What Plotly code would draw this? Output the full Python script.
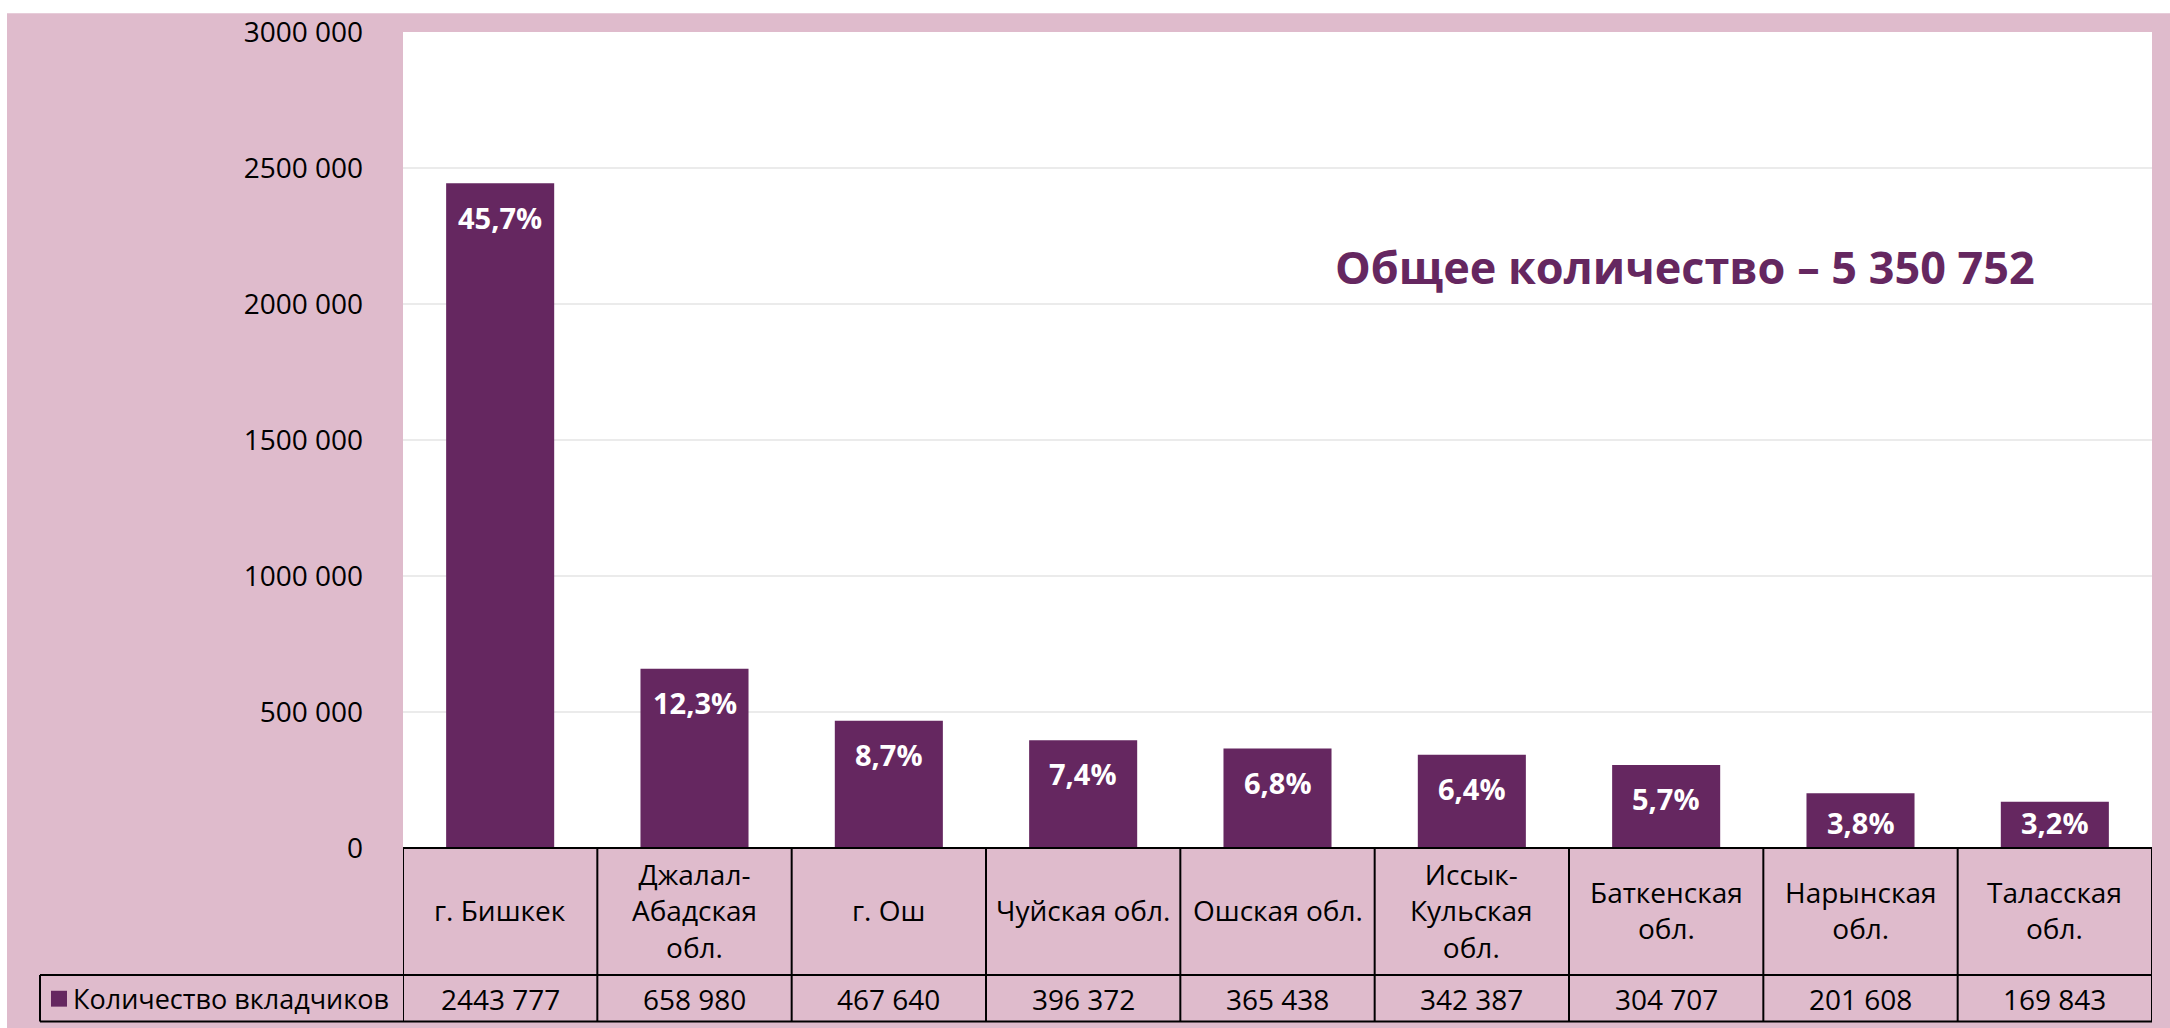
import plotly.graph_objects as go

# ---------------- data ----------------
categories = ["г. Бишкек", "Джалал-<br>Абадская<br>обл.", "г. Ош", "Чуйская обл.", "Ошская обл.",
              "Иссык-<br>Кульская<br>обл.", "Баткенская<br>обл.", "Нарынская<br>обл.", "Таласская<br>обл."]
depositors = [2443777, 658980, 467640, 396372, 365438, 342387, 304707, 201608, 169843]
value_labels = ["2443 777", "658 980", "467 640", "396 372", "365 438", "342 387", "304 707", "201 608", "169 843"]
pct_labels = ["45,7%", "12,3%", "8,7%", "7,4%", "6,8%", "6,4%", "5,7%", "3,8%", "3,2%"]
series_name = "Количество вкладчиков"
title_text = "Общее количество – 5 350 752"
y_tickvals = [0, 500000, 1000000, 1500000, 2000000, 2500000, 3000000]
y_ticktext = ["0", "500 000", "1000 000", "1500 000", "2000 000", "2500 000", "3000 000"]

# ---------------- layout constants (pixels) ----------------
FIG_W, FIG_H = 2170, 1028
L, R_PX, T, B_PX = 403, 2152, 25, 848
PW, PH = R_PX - L, B_PX - T
Y_MAX = 3000000
UPP = Y_MAX / PH  # data units per pixel

def fx(p):
    return (p - L) / PW

def fy(p):
    return (B_PX - p) / PH

PINK = "#DFBBCC"
PURPLE = "#652760"
FONT = "Open Sans"

fig = go.Figure()
fig.add_trace(go.Bar(
    x=categories, y=depositors, name=series_name,
    marker=dict(color=PURPLE, line=dict(width=0)),
    showlegend=False, hoverinfo="skip",
))

annotations = []
# percent labels inside top of bars (kept inside short bars)
for c, v, p in zip(categories, depositors, pct_labels):
    y_lab = max(v - 34 * UPP, 26 * UPP)
    annotations.append(dict(x=c, y=y_lab, xref="x", yref="y", text="<b>%s</b>" % p,
                            showarrow=False, yanchor="middle",
                            font=dict(family=FONT, size=29, color="white")))
# category labels row
for c in categories:
    annotations.append(dict(x=c, y=fy(911), xref="x", yref="paper", text=c,
                            showarrow=False, yanchor="middle", xanchor="center",
                            font=dict(family=FONT, size=28, color="black")))
# values row
for c, t in zip(categories, value_labels):
    annotations.append(dict(x=c, y=fy(1000), xref="x", yref="paper", text=t,
                            showarrow=False, yanchor="middle", xanchor="center",
                            font=dict(family=FONT, size=28, color="black")))
# legend cell text
annotations.append(dict(x=fx(71), y=fy(1000), xref="paper", yref="paper", text=series_name,
                        showarrow=False, xanchor="left", yanchor="middle",
                        font=dict(family=FONT, size=27, color="black")))
# title
annotations.append(dict(x=fx(1685), y=fy(262), xref="paper", yref="paper",
                        text="<b>%s</b>" % title_text, showarrow=False,
                        xanchor="center", yanchor="middle",
                        font=dict(family=FONT, size=45, color=PURPLE)))

shapes = []
# pink background (white border at top and left)
shapes.append(dict(type="rect", xref="paper", yref="paper", x0=fx(7), x1=fx(FIG_W + 5), y0=fy(6), y1=fy(FIG_H + 5),
                   fillcolor=PINK, line=dict(width=0), layer="below"))
# white plot area
shapes.append(dict(type="rect", xref="paper", yref="paper", x0=0, x1=1, y0=0, y1=1,
                   fillcolor="white", line=dict(width=0), layer="below"))
line_style = dict(color="black", width=2)
n = len(categories)
# horizontal table lines
shapes.append(dict(type="line", xref="paper", yref="paper", x0=0, x1=1, y0=fy(B_PX), y1=fy(B_PX), line=line_style))
shapes.append(dict(type="line", xref="paper", yref="paper", x0=fx(40), x1=1, y0=fy(976), y1=fy(976), line=line_style))
shapes.append(dict(type="line", xref="paper", yref="paper", x0=fx(40), x1=1, y0=fy(1023), y1=fy(1023), line=line_style))
# vertical table lines
for i in range(n + 1):
    shapes.append(dict(type="line", xref="x", yref="paper", x0=i - 0.5, x1=i - 0.5,
                       y0=fy(B_PX), y1=fy(1023), line=line_style))
shapes.append(dict(type="line", xref="paper", yref="paper", x0=fx(40), x1=fx(40),
                   y0=fy(976), y1=fy(1023), line=line_style))
# legend key square
shapes.append(dict(type="rect", xref="paper", yref="paper", x0=fx(51), x1=fx(67), y0=fy(992), y1=fy(1008),
                   fillcolor=PURPLE, line=dict(width=0)))

fig.update_layout(
    width=FIG_W, height=FIG_H,
    margin=dict(l=L, r=FIG_W - R_PX, t=T, b=FIG_H - B_PX, pad=0),
    paper_bgcolor="white", plot_bgcolor="rgba(0,0,0,0)",
    bargap=0.444,
    annotations=annotations, shapes=shapes,
    xaxis=dict(categoryorder="array", categoryarray=categories, range=[-0.5, n - 0.5],
               showticklabels=False, showgrid=False, zeroline=False, showline=False, ticks=""),
    yaxis=dict(range=[0, Y_MAX], tickvals=y_tickvals, ticktext=y_ticktext,
               showgrid=True, gridcolor="#EBEBEB", gridwidth=2, zeroline=False, showline=False,
               ticks="", ticklabelstandoff=39,
               tickfont=dict(family=FONT, size=28, color="black")),
)

fig.write_html("out.html")
